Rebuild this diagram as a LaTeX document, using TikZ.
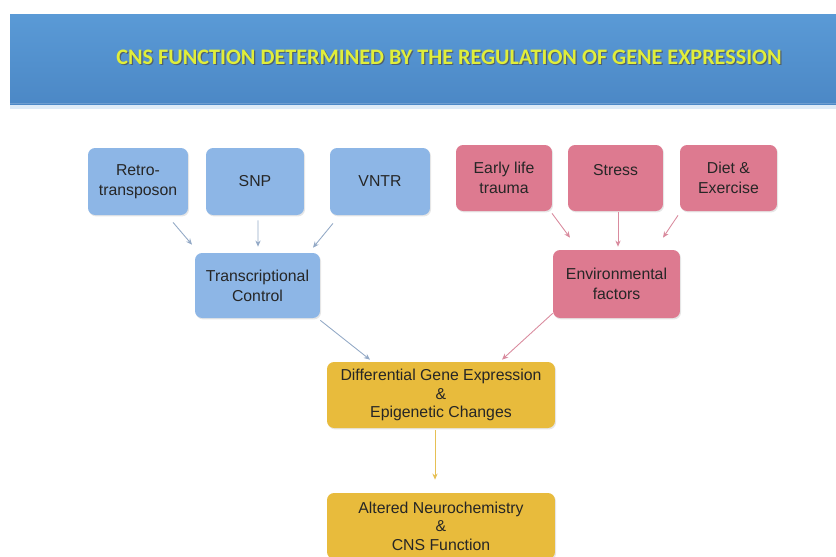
\documentclass[tikz,border=0pt]{standalone}
\usepackage{fontspec}
\setmainfont{Liberation Sans}
\newfontfamily\headfont{Carlito}
\usetikzlibrary{arrows.meta,shadows}

\definecolor{bannerblue}{HTML}{5A9AD6}
\definecolor{bannerdark}{HTML}{4A86C4}
\definecolor{headyellow}{HTML}{E0EE3A}
\definecolor{geneblue}{HTML}{8DB6E6}
\definecolor{envpink}{HTML}{DD7A90}
\definecolor{outgold}{HTML}{E8BB3C}
\definecolor{genearrow}{HTML}{93A9C6}
\definecolor{envarrow}{HTML}{D98B9E}
\definecolor{outarrow}{HTML}{E6C055}

\begin{document}
\begin{tikzpicture}[x=0.02cm,y=-0.02cm,
  box/.style={rounded corners=4pt,minimum height=1.32cm,align=center,
    font=\fontsize{9}{11.5}\selectfont,text=black!85,
    drop shadow={shadow xshift=0.6pt,shadow yshift=-0.8pt,opacity=0.2}},
  genebox/.style={box,fill=geneblue},
  envbox/.style={box,fill=envpink},
  outbox/.style={box,fill=outgold,font=\fontsize{9}{10.5}\selectfont},
  link/.style={line width=0.5pt,-{Stealth[length=3.5pt,width=3pt]}},
  genelink/.style={link,genearrow},
  envlink/.style={link,envarrow},
  outlink/.style={link,outarrow},
  headtext/.style={font=\headfont\bfseries\fontsize{12.6}{14}\selectfont}]
\useasboundingbox (0,0) rectangle (836,556);

% title banner
\fill[bannerblue!20] (10,104) rectangle (836,109);
\shade[top color=bannerblue,bottom color=bannerdark!90!bannerblue] (10,14) rectangle (836,104);
\draw[bannerdark!80!white,line width=0.8pt] (10,103.5) -- (836,103.5);
\node[headtext,black!70,opacity=0.7] (headshadow) at (450.2,58.2) {CNS FUNCTION DETERMINED BY THE REGULATION OF GENE EXPRESSION};
\node[headtext,headyellow] (head) at (449,57) {CNS FUNCTION DETERMINED BY THE REGULATION OF GENE EXPRESSION};

% genetic factors
\node[genebox,minimum width=2cm,minimum height=1.34cm] (retro) at (138,181.5) {Retro-\\transposon};
\node[genebox,minimum width=1.96cm,minimum height=1.34cm] (snp) at (255,181.5) {SNP};
\node[genebox,minimum width=2cm,minimum height=1.34cm] (vntr) at (380,181.5) {VNTR};
\node[genebox,minimum width=2.5cm,minimum height=1.3cm] (trans) at (257.5,285.5) {Transcriptional\\Control};

% environmental factors
\node[envbox,minimum width=1.92cm] (early) at (504,178) {Early life\\trauma};
\node[envbox,minimum width=1.9cm,text depth=0.33cm] (stress) at (615.5,178) {Stress};
\node[envbox,minimum width=1.94cm] (diet) at (728.5,178) {Diet \&\\Exercise};
\node[envbox,minimum width=2.54cm,minimum height=1.36cm] (env) at (616.5,284) {Environmental\\factors};

% outcome
\node[outbox,minimum width=4.56cm] (diff) at (441,395) {Differential Gene Expression\\\&\\Epigenetic Changes};
\node[outbox,minimum width=4.56cm] (alter) at (441,526) {Altered Neurochemistry\\\&\\CNS Function};

\draw[genelink] ([shift={(35,7)}]retro.south) -- ([shift={(-65.5,-8)}]trans.north);
\draw[genelink] ([shift={(3,5)}]snp.south) -- ([shift={(0.5,-6)}]trans.north);
\draw[genelink] ([shift={(-47,8)}]vntr.south) -- ([shift={(55.5,-5)}]trans.north);
\draw[envlink] ([shift={(48,2)}]early.south) -- ([shift={(-46.5,-12)}]env.north);
\draw[envlink] ([shift={(2.5,1)}]stress.south) -- ([shift={(1.5,-3)}]env.north);
\draw[envlink] ([shift={(-50.5,4)}]diet.south) -- ([shift={(46.5,-12)}]env.north);
\draw[genelink] ([shift={(0,2)}]trans.south east) -- ([shift={(-71,-2)}]diff.north);
\draw[envlink] ([shift={(0,-5)}]env.south west) -- ([shift={(61,-2)}]diff.north);
\draw[outlink] ([shift={(-6,2)}]diff.south) -- ([shift={(-6,-13)}]alter.north);
\end{tikzpicture}
\end{document}
